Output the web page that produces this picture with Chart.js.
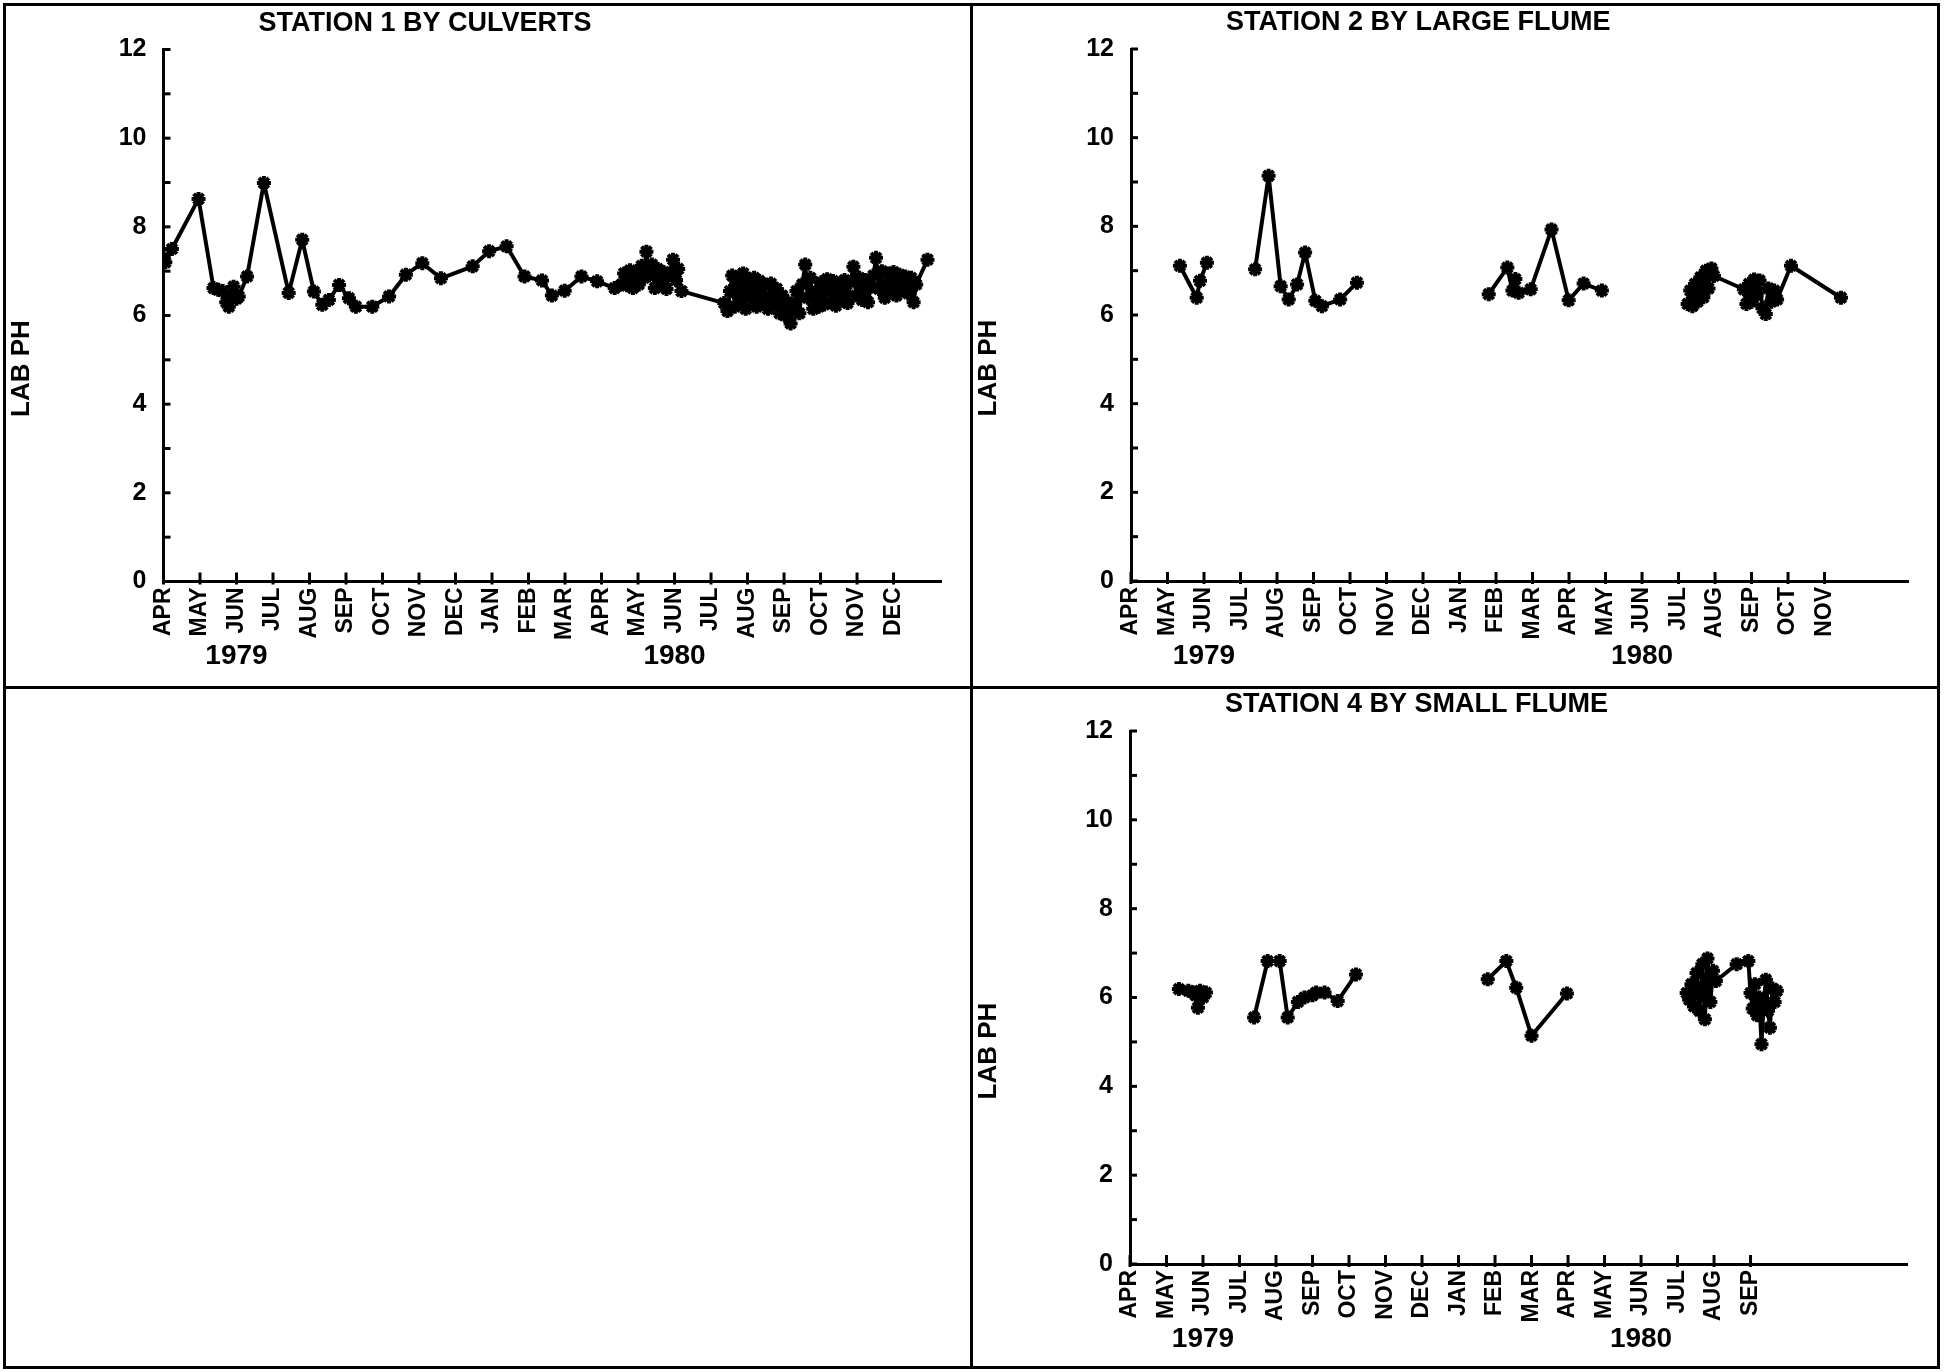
<!DOCTYPE html>
<html>
<head>
<meta charset="utf-8">
<script src="https://cdn.jsdelivr.net/npm/chart.js@4.4.1/dist/chart.umd.min.js"></script>
<style>
  html, body { margin: 0; padding: 0; background: #fff; }
  body { width: 1944px; height: 1372px; position: relative; overflow: hidden; }
  .rule { position: absolute; background: #000; }
  canvas { position: absolute; }
</style>
</head>
<body>
<div class="rule" style="left:3px;top:3px;width:1937px;height:3px"></div>
<div class="rule" style="left:3px;top:1366px;width:1937px;height:3px"></div>
<div class="rule" style="left:3px;top:3px;width:3px;height:1366px"></div>
<div class="rule" style="left:1937px;top:3px;width:3px;height:1366px"></div>
<div class="rule" style="left:970px;top:3px;width:3px;height:1366px"></div>
<div class="rule" style="left:3px;top:686px;width:1937px;height:3px"></div>

<canvas id="c1" width="970" height="686" style="left:0px;top:0px"></canvas>
<canvas id="c2" width="973" height="686" style="left:971px;top:0px"></canvas>
<canvas id="c4" width="973" height="684" style="left:971px;top:688px"></canvas>

<script>
// ---------- DATA ----------
const monthNames = ['APR','MAY','JUN','JUL','AUG','SEP','OCT','NOV','DEC','JAN','FEB','MAR',
                    'APR','MAY','JUN','JUL','AUG','SEP','OCT','NOV','DEC'];
const yearLabels = ['1979', '1980'];
const yearAtMonth = [2, 14];          // year label sits under JUN of each year
const yTitle = 'LAB PH';
const titles = ['STATION 1 BY CULVERTS', 'STATION 2 BY LARGE FLUME', 'STATION 4 BY SMALL FLUME'];
const monthCount = [21, 20, 18];      // month labels shown on each panel
const xMaxMonths = 21.3;              // axis length (months after 1 APR 1979)
const yMin = 0, yMax = 12;

// Station 1 (months since 1 Apr 1979, lab pH)
const st1Month = [0.00,0.05,0.23,0.96,1.37,1.50,1.62,1.72,1.79,1.86,1.92,2.00,2.06,2.29,2.75,3.43,3.80,4.12,4.35,4.53,
  4.81,5.08,5.27,5.72,6.18,6.64,7.09,7.60,8.47,8.92,9.40,9.89,10.37,10.64,10.99,11.45,11.88,12.36,
  12.55,12.62,12.70,12.78,12.86,12.94,13.02,13.10,13.16,13.23,13.30,13.38,13.46,13.54,13.62,13.70,13.78,13.86,13.96,14.04,14.10,14.19,
  15.36,
  15.45,15.52,15.58,15.65,15.72,15.80,15.88,15.95,16.02,16.10,16.18,16.25,16.32,16.40,16.48,16.56,16.64,16.72,16.80,16.88,
  16.95,17.02,17.10,17.18,17.26,17.34,17.42,17.50,17.58,17.65,17.72,17.80,
  17.88,17.95,18.02,18.10,18.18,18.26,18.34,18.42,18.50,18.58,18.66,18.74,18.82,18.90,18.98,19.06,19.14,19.22,19.30,19.38,
  19.45,19.52,19.60,19.68,19.76,19.84,19.92,20.00,20.08,20.16,20.24,20.32,20.40,20.48,20.55,20.62,20.93];
const st1PH = [7.30,7.20,7.50,8.63,6.62,6.58,6.55,6.30,6.20,6.45,6.65,6.38,6.43,6.88,8.99,6.51,7.71,6.54,6.24,6.35,
  6.69,6.39,6.20,6.20,6.43,6.92,7.18,6.84,7.11,7.45,7.56,6.88,6.79,6.45,6.56,6.88,6.77,6.62,
  6.70,6.95,6.68,7.02,6.62,6.98,6.70,7.12,6.85,7.44,6.90,7.15,6.62,7.05,6.72,6.98,6.60,6.95,7.26,6.80,7.05,6.55,
  6.28,
  6.10,6.55,6.90,6.20,6.85,6.35,6.95,6.15,6.80,6.40,6.85,6.20,6.78,6.30,6.70,6.15,6.72,6.25,6.60,6.05,
  6.45,6.00,6.30,5.82,6.20,6.55,6.05,6.70,7.15,6.40,6.85,6.15,
  6.55,6.20,6.75,6.25,6.82,6.30,6.78,6.22,6.70,6.35,6.80,6.28,6.75,7.10,6.45,6.85,6.35,6.80,6.30,6.65,
  6.90,7.30,6.60,7.00,6.40,6.95,6.55,6.98,6.45,6.92,6.60,6.88,6.50,6.85,6.30,6.70,7.26];

// Station 2 (null = no samples, line broken)
const st2Month = [1.34,1.80,1.89,2.08, 2.7,
  3.40,3.77,4.10,4.32,4.55,4.77,5.05,5.23,5.73,6.19, 8.0,
  9.80,10.31,10.45,10.53,10.62,10.95,11.52,11.99,12.40,12.90, 14.0,
  15.25,15.32,15.38,15.45,15.52,15.60,15.68,15.75,15.82,15.90,15.97,16.79,
  16.86,16.93,17.00,17.07,17.14,17.22,17.30,17.39,17.46,17.54,17.62,17.70,18.08,19.45];
const st2PH = [7.11,6.39,6.77,7.18, null,
  7.03,9.14,6.65,6.35,6.69,7.41,6.32,6.20,6.35,6.73, null,
  6.47,7.07,6.55,6.81,6.50,6.58,7.93,6.33,6.71,6.55, null,
  6.25,6.55,6.20,6.70,6.30,6.85,6.40,7.00,6.60,7.05,6.88,6.58,
  6.25,6.70,6.30,6.80,6.45,6.78,6.15,6.02,6.60,6.30,6.55,6.35,7.11,6.39];

// Station 4
const st4Month = [1.34,1.60,1.72,1.80,1.86,1.92,2.00,2.08, 2.7,
  3.40,3.77,4.10,4.32,4.60,4.78,5.00,5.10,5.33,5.69,6.19, 8.0,
  9.80,10.31,10.58,11.00,11.97, 14.0,
  15.25,15.32,15.38,15.45,15.52,15.60,15.68,15.75,15.82,15.90,15.97,16.05,16.62,16.94,
  17.00,17.06,17.12,17.18,17.24,17.30,17.36,17.42,17.48,17.53,17.60,17.66,17.72];
const st4PH = [6.19,6.15,6.12,6.05,5.77,6.15,6.00,6.11, null,
  5.55,6.82,6.82,5.55,5.90,6.00,6.05,6.11,6.11,5.92,6.52, null,
  6.41,6.82,6.22,5.14,6.09, null,
  6.10,5.95,6.30,5.80,6.55,5.70,6.75,5.51,6.88,5.90,6.60,6.37,6.75,6.82,
  6.10,5.75,6.30,5.60,6.00,4.95,5.85,6.40,5.70,5.32,6.20,5.90,6.15];

// ---------- DRAWING ----------
const FONT = "'Liberation Sans', Arial, 'DejaVu Sans', sans-serif";

const plotterDecor = {
  id: 'plotterDecor',
  afterDraw(chart, args, opts) {
    const ctx = chart.ctx, a = chart.chartArea;
    const xs = chart.scales.x, ys = chart.scales.y;
    ctx.save();
    ctx.strokeStyle = '#000';
    ctx.fillStyle = '#000';
    ctx.lineWidth = 3;
    // x tick marks (crossing the axis, mostly inward)
    xs.ticks.forEach(t => {
      const px = xs.getPixelForValue(t.value);
      ctx.beginPath(); ctx.moveTo(px, a.bottom - 9); ctx.lineTo(px, a.bottom + 3); ctx.stroke();
    });
    // y tick marks (inward)
    ys.ticks.forEach(t => {
      const py = ys.getPixelForValue(t.value);
      ctx.beginPath(); ctx.moveTo(a.left, py); ctx.lineTo(a.left + 7, py); ctx.stroke();
    });
    // panel title
    ctx.font = 'bold 27px ' + FONT;
    ctx.textAlign = 'left'; ctx.textBaseline = 'middle';
    ctx.fillText(opts.title, a.left + 95, a.top - 26);
    // y axis title
    ctx.save();
    ctx.translate(opts.yTitleX, a.bottom - 213);
    ctx.rotate(-Math.PI / 2);
    ctx.textAlign = 'center'; ctx.textBaseline = 'middle';
    ctx.font = 'bold 26px ' + FONT;
    ctx.fillText(yTitle, 0, 0);
    ctx.restore();
    // year labels
    ctx.font = 'bold 28px ' + FONT;
    ctx.textAlign = 'center'; ctx.textBaseline = 'middle';
    yearLabels.forEach((lab, i) => {
      ctx.fillText(lab, xs.getPixelForValue(yearAtMonth[i]), a.bottom + 75);
    });
    ctx.restore();
  }
};

function makeChart(id, months, ph, nMonths, title, area, yTitleX) {
  const canvas = document.getElementById(id);
  const W = canvas.width, H = canvas.height;
  const labels = monthNames.slice(0, nMonths);
  const points = months.map((m, i) => ({ x: m, y: ph[i] }));
  return new Chart(canvas, {
    type: 'line',
    data: {
      datasets: [{
        data: points,
        borderColor: '#000',
        borderWidth: 4,
        borderJoinStyle: 'round',
        borderCapStyle: 'round',
        tension: 0,
        spanGaps: false,
        fill: false,
        pointStyle: 'star',
        pointRadius: 7,
        pointBorderWidth: 4,
        pointBorderColor: '#000',
        pointBackgroundColor: '#000'
      }]
    },
    options: {
      responsive: false,
      devicePixelRatio: 1,
      animation: false,
      events: [],
      layout: { padding: { left: 0, top: area.top, right: W - area.right, bottom: 0 } },
      plugins: {
        legend: { display: false },
        tooltip: { enabled: false },
        title: { display: false },
        plotterDecor: { title: title, yTitleX: yTitleX }
      },
      scales: {
        x: {
          type: 'linear',
          min: 0,
          max: xMaxMonths,
          grid: { display: false, drawTicks: false },
          border: { display: true, color: '#000', width: 3 },
          afterBuildTicks: s => { s.ticks = labels.map((_, i) => ({ value: i })); },
          afterFit: s => { s.height = H - area.bottom; },
          ticks: {
            autoSkip: false,
            minRotation: 90,
            maxRotation: 90,
            padding: 6,
            color: '#000',
            font: { family: FONT, size: 23, weight: 'bold' },
            callback: v => labels[v]
          }
        },
        y: {
          type: 'linear',
          min: yMin,
          max: yMax,
          grid: { display: false, drawTicks: false },
          border: { display: true, color: '#000', width: 3 },
          afterFit: s => { s.width = area.left; },
          ticks: {
            stepSize: 1,
            padding: 17,
            color: '#000',
            font: { family: FONT, size: 25, weight: 'bold' },
            callback: v => (v % 2 === 0 ? String(v) : '')
          }
        }
      }
    },
    plugins: [plotterDecor]
  });
}

makeChart('c1', st1Month, st1PH, monthCount[0], titles[0], { left: 163.5, top: 49.5, right: 941, bottom: 581.5 }, 22);
makeChart('c2', st2Month, st2PH, monthCount[1], titles[1], { left: 160, top: 49, right: 937.5, bottom: 581 }, 18);
makeChart('c4', st4Month, st4PH, monthCount[2], titles[2], { left: 159, top: 43, right: 936.5, bottom: 576 }, 18);
</script>
</body>
</html>
